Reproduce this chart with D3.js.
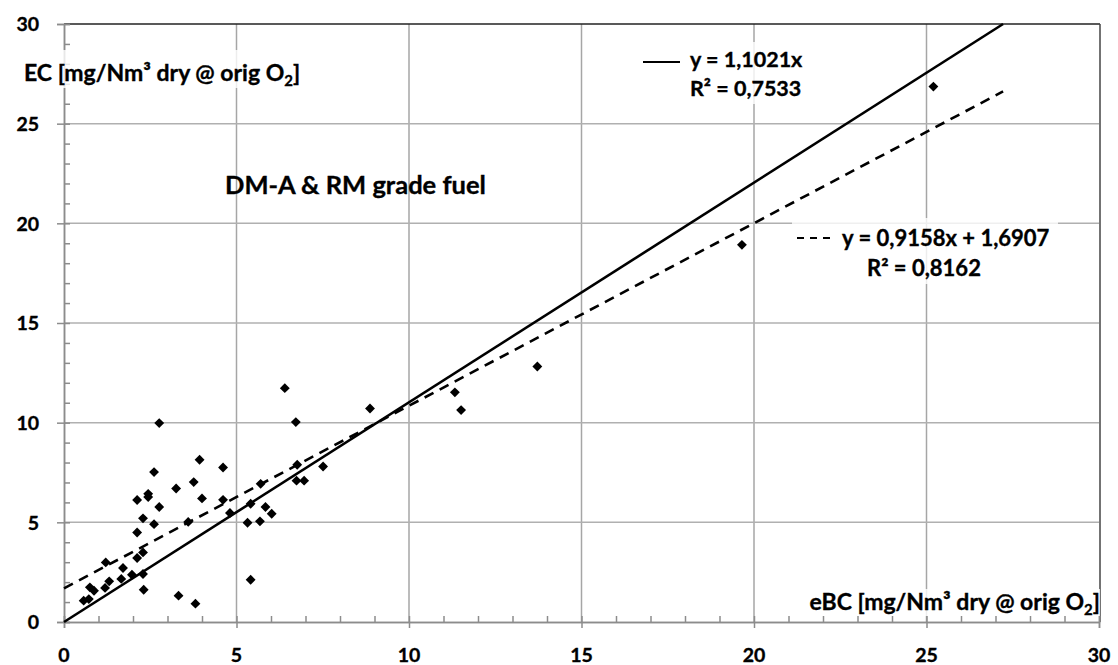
<!DOCTYPE html>
<html>
<head>
<meta charset="utf-8">
<script src="https://cdn.jsdelivr.net/npm/d3@7"></script>
<style>
body { margin:0; background:#fff; }
text { font-family: Lato, "Open Sans", sans-serif; font-weight:bold; fill:#000; stroke:#000; stroke-width:0.35px; }
</style>
</head>
<body>
<svg id="scatter"></svg>
<script>
//eBC values (x)
var ebcValues = [0.57,0.72,0.75,0.87,1.19,1.31,1.21,1.66,1.71,1.97,2.29,2.31,3.32,3.81,
    2.12,2.29,2.12,2.29,2.61,3.60,2.12,2.44,2.44,2.61,2.76,2.76,3.25,3.76,3.93,4.00,
    4.61,4.61,4.81,5.32,5.41,5.41,5.68,5.70,5.84,6.02,6.40,6.72,6.76,6.74,6.96,7.51,
    8.87,11.33,11.51,13.72,19.65,25.2];

//EC values (y), same order
var ecValues = [1.07,1.15,1.74,1.57,1.71,2.04,2.99,2.16,2.71,2.37,2.41,1.62,1.32,0.92,
    3.21,3.49,4.49,5.20,4.91,5.02,6.12,6.27,6.43,7.52,5.77,9.98,6.70,7.02,8.14,6.20,
    6.13,7.75,5.47,4.98,5.93,2.12,5.05,6.93,5.77,5.43,11.73,10.03,7.89,7.09,7.09,7.80,
    10.71,11.52,10.63,12.82,18.92,26.86];

//trend lines: slope, intercept and the x range they are drawn over
var trendSlopes = [1.1021, 0.9158];
var trendIntercepts = [0, 1.6907];
var trendRange = [0, 27.22];

var axisTicks = [0,5,10,15,20,25,30];
var minorTicks = d3.range(0,31,1);

var initGraph = function(target)
{
    var screen = {width:1118, height:665};
    var plot = {left:64, right:1099, top:24, bottom:622};

    var svg = d3.select(target)
        .attr("width",screen.width)
        .attr("height",screen.height);

    var xScale = d3.scaleLinear()
        .domain([0,30])
        .range([plot.left,plot.right]);

    var yScale = d3.scaleLinear()
        .domain([0,30])
        .range([plot.bottom,plot.top]);

    //gridlines
    var grid = svg.append("g");
    grid.selectAll(".vgrid")
        .data(axisTicks.slice(1,-1))
        .enter().append("line")
        .attr("x1",function(d){return xScale(d)})
        .attr("x2",function(d){return xScale(d)})
        .attr("y1",plot.top).attr("y2",plot.bottom)
        .attr("stroke","#a6a6a6").attr("stroke-width",1.5);
    grid.selectAll(".hgrid")
        .data(axisTicks.slice(1,-1))
        .enter().append("line")
        .attr("y1",function(d){return yScale(d)})
        .attr("y2",function(d){return yScale(d)})
        .attr("x1",plot.left).attr("x2",plot.right)
        .attr("stroke","#b0b0b0").attr("stroke-width",1.5);

    //frame: top and right dark
    svg.append("line")
        .attr("x1",plot.left).attr("x2",plot.right+1)
        .attr("y1",plot.top).attr("y2",plot.top)
        .attr("stroke","#222").attr("stroke-width",1.5);
    svg.append("line")
        .attr("x1",plot.right+1).attr("x2",plot.right+1)
        .attr("y1",plot.top).attr("y2",plot.bottom)
        .attr("stroke","#444").attr("stroke-width",1.5);

    //axes: major ticks outside, minor ticks inside
    var xAxis = d3.axisBottom(xScale).tickValues(axisTicks).tickSize(6).tickFormat("");
    var yAxis = d3.axisLeft(yScale).tickValues(axisTicks).tickSize(7).tickFormat("");
    var xMinor = d3.axisTop(xScale).tickValues(minorTicks).tickSize(6).tickFormat("");
    var yMinor = d3.axisRight(yScale).tickValues(minorTicks).tickSize(6).tickFormat("");

    var axes = svg.append("g").classed("axis",true);
    axes.append("g").attr("transform","translate(0,"+plot.bottom+")").call(xMinor);
    axes.append("g").attr("transform","translate("+plot.left+",0)").call(yMinor);
    axes.append("g").attr("transform","translate(0,"+plot.bottom+")").call(xAxis);
    axes.append("g").attr("transform","translate("+plot.left+",0)").call(yAxis);
    axes.selectAll("path, line")
        .attr("stroke","#8c8c8c").attr("stroke-width",1.5);

    //tick labels
    svg.append("g").selectAll("text")
        .data(axisTicks)
        .enter().append("text")
        .attr("x",function(d){return xScale(d)})
        .attr("y",662)
        .attr("text-anchor","middle")
        .attr("font-size",19.5)
        .text(function(d){return d});
    svg.append("g").selectAll("text")
        .data(axisTicks)
        .enter().append("text")
        .attr("x",39)
        .attr("y",function(d){return yScale(d)})
        .attr("dy","0.38em")
        .attr("text-anchor","end")
        .attr("font-size",19.5)
        .text(function(d){return d});

    //trend lines
    var line = d3.line()
        .x(function(d){return xScale(d[0])})
        .y(function(d){return yScale(d[1])});
    var dashes = [null,"10,7"];
    trendSlopes.forEach(function(m,i)
    {
        var pts = trendRange.map(function(x){return [x, m*x+trendIntercepts[i]]});
        svg.append("path")
            .attr("d",line(pts))
            .attr("fill","none")
            .attr("stroke","#000")
            .attr("stroke-width",2.6)
            .attr("stroke-dasharray",dashes[i]);
    });

    //points
    var points = ebcValues.map(function(x,i){return {x:x, y:ecValues[i]}});
    svg.append("g").selectAll("path")
        .data(points)
        .enter().append("path")
        .attr("d",d3.symbol().type(d3.symbolDiamond2).size(62))
        .attr("transform",function(p){return "translate("+xScale(p.x)+","+yScale(p.y)+")"})
        .attr("fill","#000");

    //labels with light boxes behind
    var box = function(x,y,w,h)
    {
        svg.append("rect")
            .attr("x",x).attr("y",y).attr("width",w).attr("height",h)
            .attr("fill","#fff").attr("opacity",0.8);
    }
    var subLabel = function(x,y,anchor,prefix)
    {
        var t = svg.append("text")
            .attr("x",x).attr("y",y)
            .attr("text-anchor",anchor)
            .attr("font-size",23);
        t.append("tspan").text(prefix+" [mg/Nm³ dry @ orig O");
        t.append("tspan").attr("font-size",15).attr("dy",5).text("2");
        t.append("tspan").attr("dy",-5).text("]");
    }

    box(20,50,290,38);
    subLabel(24,81,"start","EC");
    box(800,589,300,27);
    subLabel(1100,610,"end","eBC");

    svg.append("text")
        .attr("x",225).attr("y",194)
        .attr("font-size",25.5)
        .text("DM-A & RM grade fuel");

    //legend for solid line
    box(640,42,172,62);
    svg.append("line")
        .attr("x1",643).attr("x2",680).attr("y1",62).attr("y2",62)
        .attr("stroke","#000").attr("stroke-width",2);
    svg.append("text").attr("x",690).attr("y",67).attr("font-size",21.5)
        .text("y = 1,1021x");
    svg.append("text").attr("x",690).attr("y",96).attr("font-size",21.5)
        .text("R² = 0,7533");

    //legend for dashed line
    box(792,218,266,66);
    svg.append("line")
        .attr("x1",797).attr("x2",831).attr("y1",238).attr("y2",238)
        .attr("stroke","#000").attr("stroke-width",2)
        .attr("stroke-dasharray","7,6");
    svg.append("text").attr("x",842).attr("y",246).attr("font-size",22)
        .text("y = 0,9158x + 1,6907");
    svg.append("text").attr("x",867).attr("y",276).attr("font-size",22)
        .text("R² = 0,8162");
}

initGraph("#scatter");
</script>
</body>
</html>
